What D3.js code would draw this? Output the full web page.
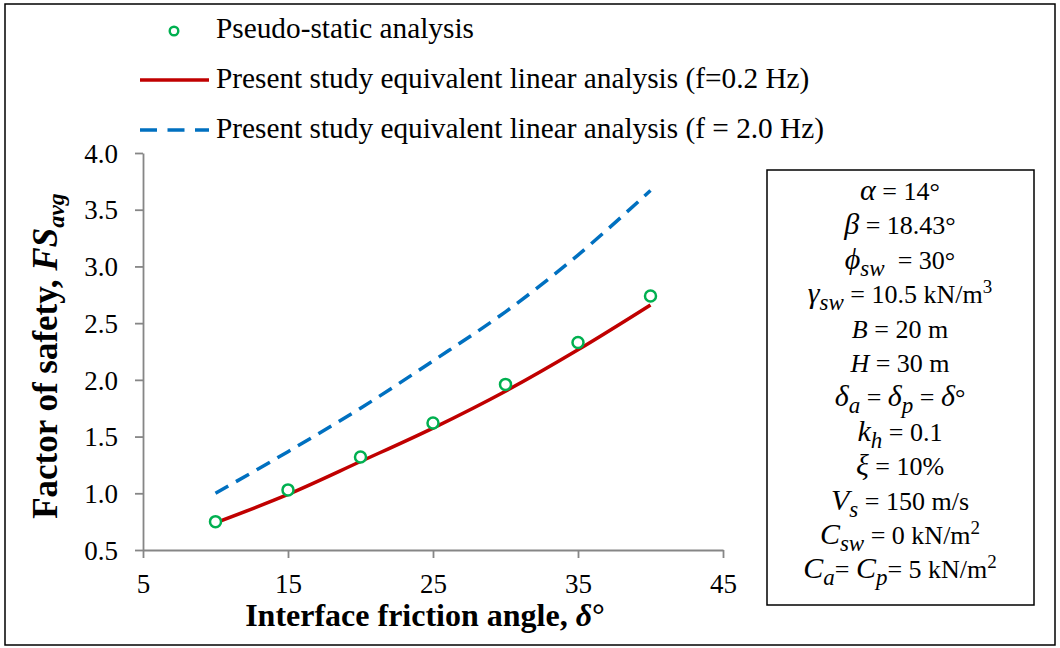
<!DOCTYPE html>
<html>
<head>
<meta charset="utf-8">
<script src="https://cdn.jsdelivr.net/npm/d3@7"></script>
<style>
  html, body { margin: 0; padding: 0; background: #fff; }
  svg { display: block; font-family: "Liberation Serif", "Times New Roman", serif; }
</style>
</head>
<body>
<svg id="chart" width="1060" height="648"></svg>
<script>
// Interface friction angle (degrees)
const delta = [10, 15, 20, 25, 30, 35, 40];
// Pseudo-static analysis (markers)
const fsPseudoStatic = [0.75, 1.03, 1.32, 1.62, 1.96, 2.33, 2.74];
// Equivalent linear analysis, f = 0.2 Hz (solid)
const fsEqLin02 = [0.74, 0.99, 1.28, 1.575, 1.9, 2.265, 2.66];
// Equivalent linear analysis, f = 2.0 Hz (dashed)
const fsEqLin20 = [1.0, 1.367, 1.75, 2.167, 2.6, 3.1, 3.67];

const xTicks = [5, 15, 25, 35, 45];
const yTicks = [0.5, 1.0, 1.5, 2.0, 2.5, 3.0, 3.5, 4.0];

const legendLabels = [
  "Pseudo-static analysis",
  "Present study equivalent linear analysis (f=0.2 Hz)",
  "Present study equivalent linear analysis (f = 2.0 Hz)"
];

const colors = { marker: "#00b050", red: "#c00000", blue: "#0070c0", axis: "#868686" };

const svg = d3.select("#chart");

svg.append("rect").attr("width", 1060).attr("height", 648).attr("fill", "#fff");
svg.append("rect")
  .attr("x", 5).attr("y", 4).attr("width", 1050).attr("height", 641)
  .attr("fill", "none").attr("stroke", "#000").attr("stroke-width", 1.5);

const plot = { left: 143, right: 723, top: 153, bottom: 550 };

const x = d3.scaleLinear().domain([5, 45]).range([plot.left, plot.right]);
const y = d3.scaleLinear().domain([0.5, 4.0]).range([plot.bottom, plot.top]);

// Axes
const xAxis = svg.append("g")
  .attr("transform", `translate(0,${plot.bottom})`)
  .call(d3.axisBottom(x).tickValues(xTicks).tickSize(8).tickPadding(16).tickSizeOuter(0).tickFormat(d3.format("d")));
const yAxis = svg.append("g")
  .attr("transform", `translate(${plot.left},0)`)
  .call(d3.axisLeft(y).tickValues(yTicks).tickSize(8).tickPadding(17).tickSizeOuter(0).tickFormat(d3.format(".1f")));

[xAxis, yAxis].forEach(g => {
  g.select(".domain").attr("stroke", colors.axis).attr("stroke-width", 1.8);
  g.selectAll(".tick line").attr("stroke", colors.axis).attr("stroke-width", 1.8);
  g.selectAll(".tick text")
    .attr("fill", "#000")
    .style("font-family", "Liberation Serif, Times New Roman, serif")
    .style("font-size", "27px");
});
yAxis.selectAll(".tick text").attr("dy", "0.34em");

// Curves
const ptsRed = delta.map((d, i) => [d, fsEqLin02[i]]);
const ptsBlue = delta.map((d, i) => [d, fsEqLin20[i]]);
const line = d3.line().x(d => x(d[0])).y(d => y(d[1])).curve(d3.curveCatmullRom.alpha(0.5));

const bluePath = svg.append("path").datum(ptsBlue).attr("d", line)
  .attr("fill", "none").attr("stroke", colors.blue).attr("stroke-width", 3.5);
// spread the dashes so the pattern starts with a dash and ends inside a gap
{
  const L = bluePath.node().getTotalLength();
  const dash = 15, tailGap = 17;
  const n = Math.round((L - tailGap - dash) / 24);
  const period = (L - tailGap - dash) / n;
  bluePath.attr("stroke-dasharray", `${dash},${(period - dash).toFixed(2)}`);
}

svg.append("path").datum(ptsRed).attr("d", line)
  .attr("fill", "none").attr("stroke", colors.red).attr("stroke-width", 3.5);

svg.append("g").selectAll("circle")
  .data(delta.map((d, i) => [d, fsPseudoStatic[i]]))
  .join("circle")
  .attr("cx", d => x(d[0])).attr("cy", d => y(d[1])).attr("r", 5.5)
  .attr("fill", "#fff").attr("stroke", colors.marker).attr("stroke-width", 2.5);

// Legend
const legend = svg.append("g");
legend.append("circle").attr("cx", 174).attr("cy", 31).attr("r", 4.3)
  .attr("fill", "#fff").attr("stroke", colors.marker).attr("stroke-width", 2.4);
legend.append("line").attr("x1", 140).attr("x2", 209).attr("y1", 80).attr("y2", 80)
  .attr("stroke", colors.red).attr("stroke-width", 3.5);
legend.append("line").attr("x1", 140).attr("x2", 209).attr("y1", 130).attr("y2", 130)
  .attr("stroke", colors.blue).attr("stroke-width", 3.5).attr("stroke-dasharray", "17,10.5");
legend.selectAll("text").data(legendLabels).join("text")
  .attr("x", 216).attr("y", (d, i) => 38 + i * 50)
  .style("font-size", "29.3px").attr("fill", "#000")
  .text(d => d);

// Axis titles
const xt = svg.append("text").attr("x", 425).attr("y", 626)
  .attr("text-anchor", "middle").style("font-size", "32px").style("font-weight", "bold");
xt.append("tspan").text("Interface friction angle, ");
xt.append("tspan").style("font-style", "italic").text("δ");
xt.append("tspan").text("°");

const yt = svg.append("text")
  .attr("transform", "translate(57,356) rotate(-90)")
  .attr("text-anchor", "middle").style("font-size", "35px").style("font-weight", "bold");
yt.append("tspan").text("Factor of safety, ");
yt.append("tspan").style("font-style", "italic").text("FS");
yt.append("tspan").style("font-style", "italic").style("font-size", "24px").attr("dy", 7).text("avg");

// Parameter box
svg.append("rect").attr("x", 767).attr("y", 170).attr("width", 267).attr("height", 435)
  .attr("fill", "#fff").attr("stroke", "#000").attr("stroke-width", 1.5);

const I = t => ({ t, i: true });
const G = t => ({ t, i: true, big: true });
const N = t => ({ t });
const SUB = t => ({ t, i: true, sub: true });
const SUP = t => ({ t, sup: true });
const params = [
  [G("α"), N(" = 14°")],
  [G("β"), N(" = 18.43°")],
  [G("ϕ"), SUB("sw"), N("  = 30°")],
  [G("γ"), SUB("sw"), N(" = 10.5 kN/m"), SUP("3")],
  [I("B"), N(" = 20 m")],
  [I("H"), N(" = 30 m")],
  [G("δ"), SUB("a"), N(" = "), G("δ"), SUB("p"), N(" = "), G("δ"), N("°")],
  [G("k"), SUB("h"), N(" = 0.1")],
  [G("ξ"), N(" = 10%")],
  [G("V"), SUB("s"), N(" = 150 m/s")],
  [G("C"), SUB("sw"), N(" = 0 kN/m"), SUP("2")],
  [G("C"), SUB("a"), N("= "), G("C"), SUB("p"), N("= 5 kN/m"), SUP("2")]
];

params.forEach((segs, li) => {
  const t = svg.append("text").attr("x", 900).attr("y", 200 + li * 34.4)
    .attr("text-anchor", "middle").style("font-size", "26px").attr("fill", "#000")
    .style("white-space", "pre").attr("xml:space", "preserve");
  let off = 0;
  segs.forEach(s => {
    const target = s.sub ? 7 : s.sup ? -10 : 0;
    const ts = t.append("tspan").attr("dy", target - off).text(s.t);
    off = target;
    if (s.i) ts.style("font-style", "italic");
    if (s.big) ts.style("font-size", "30px");
    if (s.sub) ts.style("font-size", "23px");
    if (s.sup) ts.style("font-size", "19px");
  });
});
</script>
</body>
</html>
